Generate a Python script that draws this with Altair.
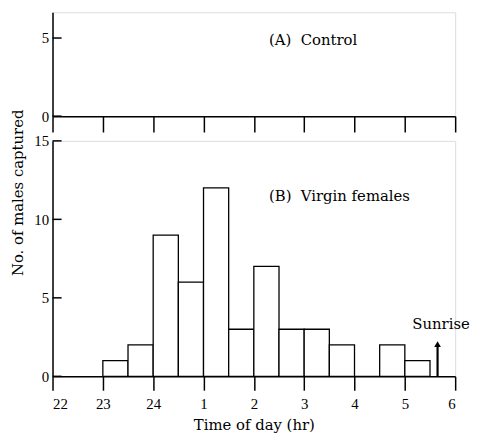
import altair as alt
import pandas as pd

# ---- data ----
bin_start = [23, 23.5, 24, 24.5, 25, 25.5, 26, 26.5, 27, 27.5, 28, 28.5, 29]
bin_end = [23.5, 24, 24.5, 25, 25.5, 26, 26.5, 27, 27.5, 28, 28.5, 29, 29.5]
virgin_counts = [1, 2, 9, 6, 12, 3, 7, 3, 3, 2, 0, 2, 1]
hour_ticks = [22, 23, 24, 25, 26, 27, 28, 29, 30]
y_ticks_top = [0, 5]
y_ticks_bottom = [0, 5, 10, 15]
sunrise_hour = [29.65]
sunrise_arrow_top = [2.0]
sunrise_head = [2.05]
label_a = ["(A)\u00a0\u00a0Control"]
label_a_pos = [(26.3, 4.9)]
label_b = ["(B)\u00a0\u00a0Virgin females"]
label_b_pos = [(26.3, 11.5)]
sunrise_label = ["Sunrise"]
sunrise_label_pos = [(29.72, 3.35)]

FONT = "Liberation Serif"
TFONT = "DejaVu Serif"
W = 407
H_TOP = 105
H_BOT = 238
X_DOMAIN = [22, 30]
TOP_DOMAIN = [0, 6.65]
BOT_DOMAIN = [0, 15]
TICK_LEN_HR = 0.18
label_expr = "datum.value > 24 ? datum.value - 24 : datum.value"

bars = pd.DataFrame({"start": bin_start, "end": bin_end, "count": virgin_counts,
                     "base": [0] * len(virgin_counts)})
ticks_top = pd.DataFrame({"y": y_ticks_top, "x": [X_DOMAIN[0]] * len(y_ticks_top),
                          "x2": [X_DOMAIN[0] + TICK_LEN_HR] * len(y_ticks_top)})
ticks_bot = pd.DataFrame({"y": y_ticks_bottom, "x": [X_DOMAIN[0]] * len(y_ticks_bottom),
                          "x2": [X_DOMAIN[0] + TICK_LEN_HR] * len(y_ticks_bottom)})

xs = alt.Scale(domain=X_DOMAIN, nice=False, zero=False)
ys_top = alt.Scale(domain=TOP_DOMAIN, nice=False)
ys_bot = alt.Scale(domain=BOT_DOMAIN, nice=False)

axis_common = dict(domainColor="black", domainWidth=1.5, tickColor="black", tickWidth=1.5,
                   labelFont=FONT, labelFontSize=15, labelColor="black", grid=False,
                   titleFont=TFONT, titleFontSize=15, titleColor="black", titleFontWeight="normal")

# ---- top panel ----
top_x_axis = alt.Axis(values=hour_ticks, labels=False, tickSize=16, title=None, **axis_common)
top_y_axis = alt.Axis(values=y_ticks_top, tickSize=0, labelPadding=4, title=None, **axis_common)

top_base = alt.Chart(ticks_top).mark_rule(color="black", strokeWidth=1.5).encode(
    x=alt.X("x:Q", scale=xs, axis=top_x_axis),
    x2="x2:Q",
    y=alt.Y("y:Q", scale=ys_top, axis=top_y_axis),
)
top_text = alt.Chart(pd.DataFrame({"t": label_a, "x": [p[0] for p in label_a_pos],
                                   "y": [p[1] for p in label_a_pos]})).mark_text(
    font=TFONT, fontSize=15, align="left", baseline="middle", color="black").encode(
    x=alt.X("x:Q", scale=xs), y=alt.Y("y:Q", scale=ys_top), text="t:N")
top = alt.layer(top_base, top_text).properties(width=W, height=H_TOP)

# ---- bottom panel ----
bot_x_axis = alt.Axis(values=hour_ticks, labelExpr=label_expr, tickSize=14, labelPadding=7,
                      title="Time of day (hr)", titlePadding=6, **axis_common)
bot_y_axis = alt.Axis(values=y_ticks_bottom, tickSize=0, labelPadding=4,
                      title="No. of males captured", titleY=52, titlePadding=8, **axis_common)

bar_layer = alt.Chart(bars).mark_bar(fill="white", stroke="black", strokeWidth=1.3).encode(
    x=alt.X("start:Q", scale=xs, axis=bot_x_axis),
    x2="end:Q",
    y=alt.Y("count:Q", scale=ys_bot, axis=bot_y_axis),
    y2="base:Q",
)
tick_layer = alt.Chart(ticks_bot).mark_rule(color="black", strokeWidth=1.5).encode(
    x=alt.X("x:Q", scale=xs), x2="x2:Q", y=alt.Y("y:Q", scale=ys_bot))
arrow_df = pd.DataFrame({"x": sunrise_hour, "y0": [0], "y1": sunrise_arrow_top, "yh": sunrise_head})
arrow_shaft = alt.Chart(arrow_df).mark_rule(color="black", strokeWidth=2.2).encode(
    x=alt.X("x:Q", scale=xs), y=alt.Y("y0:Q", scale=ys_bot), y2="y1:Q")
arrow_head = alt.Chart(arrow_df).mark_point(shape="triangle-up", filled=True, color="black",
                                            size=45, opacity=1).encode(
    x=alt.X("x:Q", scale=xs), y=alt.Y("yh:Q", scale=ys_bot))
b_text = alt.Chart(pd.DataFrame({"t": label_b, "x": [p[0] for p in label_b_pos],
                                 "y": [p[1] for p in label_b_pos]})).mark_text(
    font=TFONT, fontSize=15, align="left", baseline="middle", color="black").encode(
    x=alt.X("x:Q", scale=xs), y=alt.Y("y:Q", scale=ys_bot), text="t:N")
s_text = alt.Chart(pd.DataFrame({"t": sunrise_label, "x": [p[0] for p in sunrise_label_pos],
                                 "y": [p[1] for p in sunrise_label_pos]})).mark_text(
    font=TFONT, fontSize=15, align="center", baseline="middle", color="black").encode(
    x=alt.X("x:Q", scale=xs), y=alt.Y("y:Q", scale=ys_bot), text="t:N")

bottom = alt.layer(bar_layer, tick_layer, arrow_shaft, arrow_head, b_text, s_text).properties(
    width=W, height=H_BOT)

chart = alt.vconcat(top, bottom, spacing=25, bounds="flush").properties(
    padding={"left": 2, "top": 1, "right": 0, "bottom": 0}
).configure_view(stroke=None).configure(background="white")

chart.save("out.html", embed_options={"renderer": "svg", "actions": False})
